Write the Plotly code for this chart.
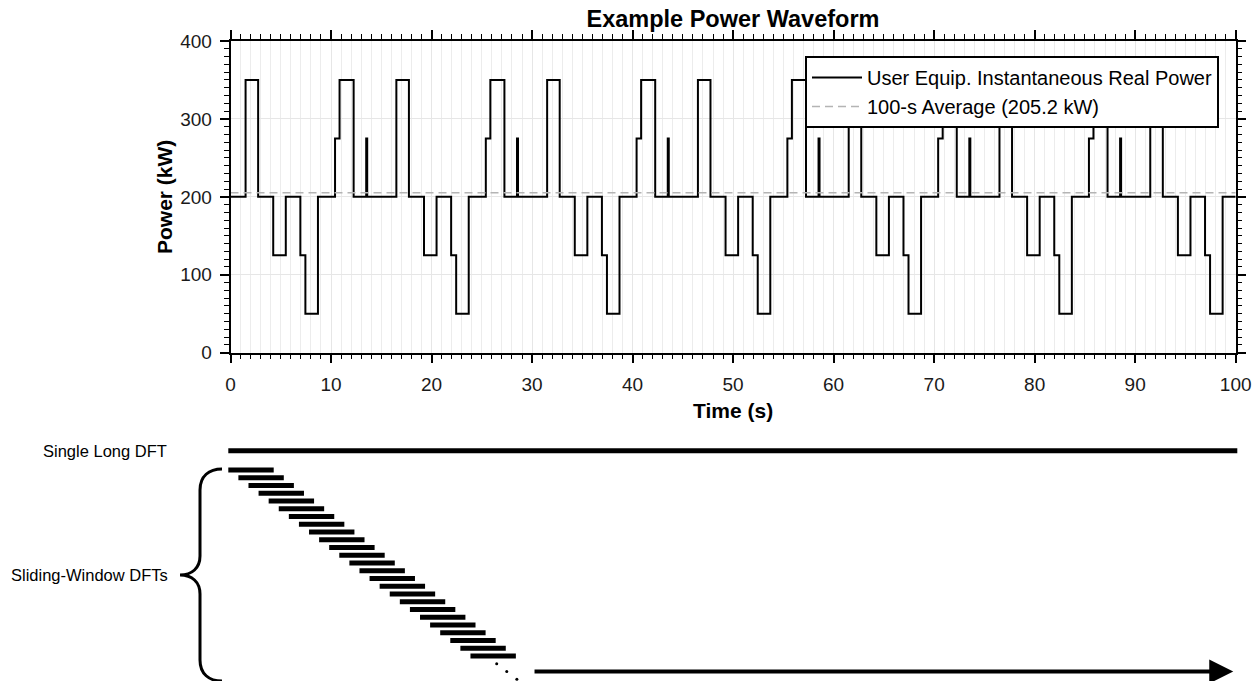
import plotly.graph_objects as go

# ---------------- data ----------------
# step change points of the waveform (time in s, new power level in kW)
time_s = [0, 1.5, 2.75, 4.25, 5.5, 6.95, 7.45, 8.7, 10.4, 10.85, 12.25, 13.5, 13.6,
          16.5, 17.75, 19.25, 20.5, 21.95, 22.45, 23.7, 25.4, 25.85, 27.25, 28.5, 28.6,
          31.5, 32.75, 34.25, 35.5, 36.95, 37.45, 38.7, 40.4, 40.85, 42.25, 43.5, 43.6,
          46.5, 47.75, 49.25, 50.5, 51.95, 52.45, 53.7, 55.4, 55.85, 57.25, 58.5, 58.6,
          61.5, 62.75, 64.25, 65.5, 66.95, 67.45, 68.7, 70.4, 70.85, 72.25, 73.5, 73.6,
          76.5, 77.75, 79.25, 80.5, 81.95, 82.45, 83.7, 85.4, 85.85, 87.25, 88.5, 88.6,
          91.5, 92.75, 94.25, 95.5, 96.95, 97.45, 98.7, 100]
power_kw = [200, 350, 200, 125, 200, 125, 50, 200, 275, 350, 200, 275, 200,
            350, 200, 125, 200, 125, 50, 200, 275, 350, 200, 275, 200,
            350, 200, 125, 200, 125, 50, 200, 275, 350, 200, 275, 200,
            350, 200, 125, 200, 125, 50, 200, 275, 350, 200, 275, 200,
            350, 200, 125, 200, 125, 50, 200, 275, 350, 200, 275, 200,
            350, 200, 125, 200, 125, 50, 200, 275, 350, 200, 275, 200,
            350, 200, 125, 200, 125, 50, 200, 200]
average_kw = 205.2

legend_names = ["User Equip. Instantaneous Real Power", "100-s Average (205.2 kW)"]

# DFT window diagram (time in s, row index downward)
long_dft_start, long_dft_end, long_dft_row = 0, 100, -2.5
window_starts = [0, 1, 2, 3, 4, 5, 6, 7, 8, 9, 10, 11, 12, 13, 14, 15, 16, 17, 18, 19, 20, 21, 22, 23, 24]
window_rows = [0, 1, 2, 3, 4, 5, 6, 7, 8, 9, 10, 11, 12, 13, 14, 15, 16, 17, 18, 19, 20, 21, 22, 23, 24]
window_length = 4.5
ellipsis_x = [26.6, 27.6, 28.6]
ellipsis_rows = [25, 26, 27]
arrow_start, arrow_end, arrow_row = 30.2, 99.6, 26

FONT = "Liberation Sans, Arial, sans-serif"
W, H = 1260, 681
ML, MR, MT, MB = 228, 22, 41, 0
PW, PH = W - ML - MR, H - MT - MB


def px(x):
    return (x - ML) / PW


def py(y):
    return (H - MB - y) / PH


fig = go.Figure()

fig.add_trace(go.Scatter(x=time_s, y=power_kw, mode="lines", line=dict(color="black", width=2, shape="hv"),
                         name=legend_names[0], xaxis="x", yaxis="y"))
fig.add_trace(go.Scatter(x=[0, 100], y=[average_kw, average_kw], mode="lines",
                         line=dict(color="#b4b4b4", width=1.5, dash="8px,5px"),
                         name=legend_names[1], xaxis="x", yaxis="y"))

# long DFT bar
fig.add_trace(go.Scatter(x=[long_dft_start, long_dft_end], y=[long_dft_row, long_dft_row], mode="lines",
                         line=dict(color="black", width=5), showlegend=False, xaxis="x2", yaxis="y2",
                         hoverinfo="skip"))
# sliding windows
wx, wy = [], []
for s, r in zip(window_starts, window_rows):
    wx += [s, s + window_length, None]
    wy += [r, r, None]
fig.add_trace(go.Scatter(x=wx, y=wy, mode="lines", line=dict(color="black", width=5),
                         showlegend=False, xaxis="x2", yaxis="y2", hoverinfo="skip"))
fig.add_trace(go.Scatter(x=ellipsis_x, y=ellipsis_rows, mode="markers",
                         marker=dict(color="black", size=3), showlegend=False,
                         xaxis="x2", yaxis="y2", hoverinfo="skip"))

axis_common = dict(showline=True, linecolor="black", linewidth=1.5, mirror="allticks",
                   ticks="outside", tickcolor="black", tickwidth=1.5, ticklen=9,
                   tickfont=dict(family=FONT, size=19, color="#1a1a1a"), zeroline=False,
                   showgrid=True, gridcolor="#e6e6e6", gridwidth=1)

fig.update_layout(
    width=W, height=H,
    margin=dict(l=ML, r=MR, t=MT, b=MB, autoexpand=False),
    paper_bgcolor="white", plot_bgcolor="white",
    font=dict(family=FONT, color="black"),
    title=dict(text="<b>Example Power Waveform</b>", x=0.5, xref="paper", xanchor="center",
               y=1 - 19 / H, yanchor="middle", font=dict(family=FONT, size=23.5, color="black")),
    xaxis=dict(domain=[px(230.5), px(1235.7)], range=[0, 100], dtick=10, anchor="y",
               ticklabelstandoff=5,
               minor=dict(dtick=1, ticks="outside", ticklen=5, tickwidth=1.2, tickcolor="black",
                          showgrid=True, gridcolor="#ececec", gridwidth=1),
               **axis_common),
    yaxis=dict(domain=[py(352.7), 1.0], range=[0, 400], dtick=100, anchor="x",
               ticklabelstandoff=4,
               minor=dict(dtick=10, ticks="outside", ticklen=5, tickwidth=1.2, tickcolor="black",
                          showgrid=False),
               **axis_common),
    xaxis2=dict(domain=[0, 1], range=[(ML - 228.3) / 10.09, (ML + PW - 228.3) / 10.09],
                visible=False, anchor="y2"),
    yaxis2=dict(domain=[0, py(440)], range=[(H - 470) / 7.75, (440 - 470) / 7.75],
                visible=False, anchor="x2"),
    legend=dict(x=px(1219), y=py(56), xanchor="right", yanchor="top", bgcolor="white",
                bordercolor="black", borderwidth=2, font=dict(family=FONT, size=20, color="black"),
                itemwidth=50, tracegroupgap=0),
    showlegend=True,
)

# axis titles
fig.add_annotation(x=px(733), y=py(410), xref="paper", yref="paper", text="<b>Time (s)</b>",
                   showarrow=False, xanchor="center", yanchor="middle",
                   font=dict(family=FONT, size=21, color="black"))
fig.add_annotation(x=px(164), y=py(197), xref="paper", yref="paper", text="<b>Power (kW)</b>",
                   showarrow=False, xanchor="center", yanchor="middle", textangle=-90,
                   font=dict(family=FONT, size=21, color="black"))

# arrow in the window diagram
fig.add_annotation(x=arrow_end, y=arrow_row, ax=arrow_start, ay=arrow_row, xref="x2", yref="y2",
                   axref="x2", ayref="y2", text="", showarrow=True, arrowhead=2, arrowsize=1.2,
                   arrowwidth=4, arrowcolor="black", standoff=0)

# labels
fig.add_annotation(x=px(169), y=long_dft_row, xref="paper", yref="y2", text="Single Long DFT",
                   showarrow=False, xanchor="right", yanchor="middle",
                   font=dict(family=FONT, size=16.5, color="black"))
fig.add_annotation(x=px(170), y=py(575), xref="paper", yref="paper", text="Sliding-Window DFTs",
                   showarrow=False, xanchor="right", yanchor="middle",
                   font=dict(family=FONT, size=16.5, color="black"))

# curly brace
pts = [("M", [(222, 469)]), ("C", [(209, 469), (200, 476), (200, 490)]), ("L", [(200, 556)]),
       ("C", [(200, 568), (192, 575), (180, 575)]), ("C", [(192, 575), (200, 582), (200, 594)]),
       ("L", [(200, 660)]), ("C", [(200, 674), (209, 681), (222, 681)])]
path = " ".join(cmd + " " + " ".join(f"{px(a):.5f},{py(b):.5f}" for a, b in p) for cmd, p in pts)
fig.add_shape(type="path", path=path, xref="paper", yref="paper", line=dict(color="black", width=3))

fig.write_html("out.html")
